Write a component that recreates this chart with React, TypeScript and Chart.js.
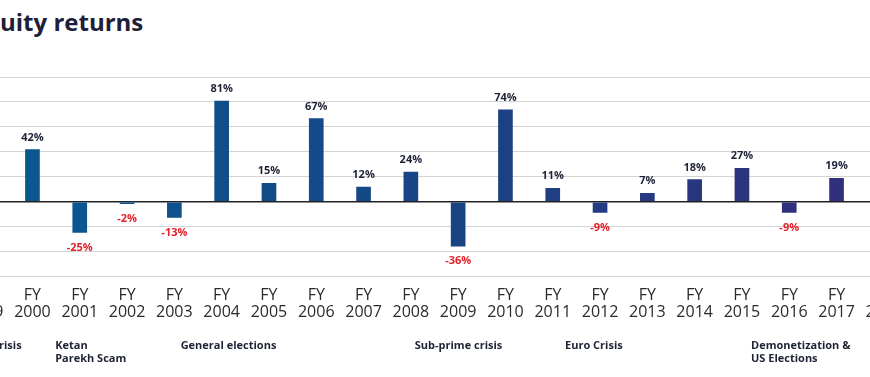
import React, { useEffect, useRef } from "react";
import { Chart, registerables } from "chart.js";

Chart.register(...registerables);

// ---- data ----
const categories: string[] = [
  "FY 1999", "FY 2000", "FY 2001", "FY 2002", "FY 2003", "FY 2004", "FY 2005",
  "FY 2006", "FY 2007", "FY 2008", "FY 2009", "FY 2010", "FY 2011", "FY 2012",
  "FY 2013", "FY 2014", "FY 2015", "FY 2016", "FY 2017", "FY 2018",
];
const returnsPct: (number | null)[] = [
  null, 42, -25, -2, -13, 81, 15, 67, 12, 24, -36, 74, 11, -9, 7, 18, 27, -9, 19, null,
];
const yMin = -60;
const yMax = 100;
const yStep = 20;

const eventCategories: string[] = ["FY 1999", "FY 2001", "FY 2004", "FY 2009", "FY 2012", "FY 2017"];
const eventTexts: string[][] = [
  ["Asian crisis"],
  ["Ketan", "Parekh Scam"],
  ["General elections"],
  ["Sub-prime crisis"],
  ["Euro Crisis"],
  ["Demonetization &", "US Elections"],
];

// ---- style ----
const eventOffsets: number[] = [-25, -24.6, -41, -43.4, -35, -85.5];
const barColors: string[] = [
  "#0b5991", "#0b5790", "#0d558e", "#0e538d", "#0f518c", "#104e89", "#124c88",
  "#144a87", "#164886", "#184585", "#1a4384", "#1d4084", "#1f3e83", "#223b82",
  "#253981", "#28367f", "#2b347e", "#2e327e", "#31307d", "#332f7c",
];
const FONT = "'Open Sans', 'DejaVu Sans', sans-serif";

const valueLabels = {
  id: "valueLabels",
  afterDatasetsDraw(chart: any) {
    const ctx = chart.ctx;
    const meta = chart.getDatasetMeta(0);
    ctx.save();
    ctx.font = `700 11px ${FONT}`;
    ctx.textAlign = "center";
    ctx.textBaseline = "alphabetic";
    meta.data.forEach((el: any, i: number) => {
      const v = returnsPct[i];
      if (v === null || v === undefined) return;
      const txt = `${v}%`;
      if (v >= 0) {
        ctx.fillStyle = "#1e2236";
        ctx.fillText(txt, el.x, el.y - 8.5);
      } else {
        ctx.fillStyle = "#e3202b";
        ctx.fillText(txt, el.x, el.y + 18);
      }
    });
    ctx.restore();
  },
};

const eventLabels = {
  id: "eventLabels",
  afterDraw(chart: any) {
    const ctx = chart.ctx;
    const xs = chart.scales.x;
    const base = chart.chartArea.bottom;
    ctx.save();
    ctx.font = `700 11px ${FONT}`;
    ctx.textAlign = "left";
    ctx.textBaseline = "alphabetic";
    ctx.fillStyle = "#1e2236";
    eventCategories.forEach((cat, i) => {
      const idx = categories.indexOf(cat);
      const x = xs.getPixelForValue(idx) + eventOffsets[i];
      eventTexts[i].forEach((line, j) => {
        ctx.fillText(line, x, base + 73 + j * 13);
      });
    });
    ctx.restore();
  },
};

export default function App() {
  const ref = useRef<HTMLCanvasElement | null>(null);

  useEffect(() => {
    if (!ref.current) return;
    const chart = new Chart(ref.current, {
      type: "bar",
      data: {
        labels: categories.map((c) => c.split(" ")),
        datasets: [
          {
            data: returnsPct as any,
            backgroundColor: barColors,
            borderWidth: 0,
            barPercentage: 0.31,
            categoryPercentage: 1,
          },
        ],
      },
      options: {
        animation: false,
        responsive: false,
        maintainAspectRatio: false,
        layout: { padding: { top: 77, bottom: 45, left: 0, right: 0 } },
        plugins: {
          legend: { display: false },
          tooltip: { enabled: false },
          title: { display: false },
        },
        scales: {
          x: {
            grid: { display: false, drawTicks: false },
            border: { display: false },
            ticks: {
              color: "#2a2a2e",
              font: { family: FONT, size: 16, lineHeight: 1.05 },
              padding: 11,
              maxRotation: 0,
              autoSkip: false,
            },
          },
          y: {
            min: yMin,
            max: yMax,
            ticks: { display: false, stepSize: yStep },
            border: { display: false },
            grid: {
              drawTicks: false,
              color: (c: any) => (c.tick && c.tick.value === 0 ? "#222" : "#d4d4d4"),
              lineWidth: (c: any) => (c.tick && c.tick.value === 0 ? 1.5 : 1),
            },
          },
        },
      },
      plugins: [valueLabels, eventLabels],
    });
    return () => chart.destroy();
  }, []);

  return (
    <div
      style={{
        position: "fixed",
        left: 0,
        top: 0,
        width: 870,
        height: 377,
        overflow: "hidden",
        background: "#fff",
      }}
    >
      <div
        style={{
          position: "absolute",
          left: 0,
          top: 10,
          fontFamily: FONT,
          fontWeight: 700,
          fontSize: 24,
          lineHeight: 1,
          color: "#1d2038",
          whiteSpace: "nowrap",
        }}
      >
        <span style={{ position: "absolute", right: "100%" }}>Eq</span>uity returns
      </div>
      <canvas
        ref={ref}
        width={957}
        height={377}
        style={{ position: "absolute", left: -44, top: 0, width: 957, height: 377 }}
      />
    </div>
  );
}
